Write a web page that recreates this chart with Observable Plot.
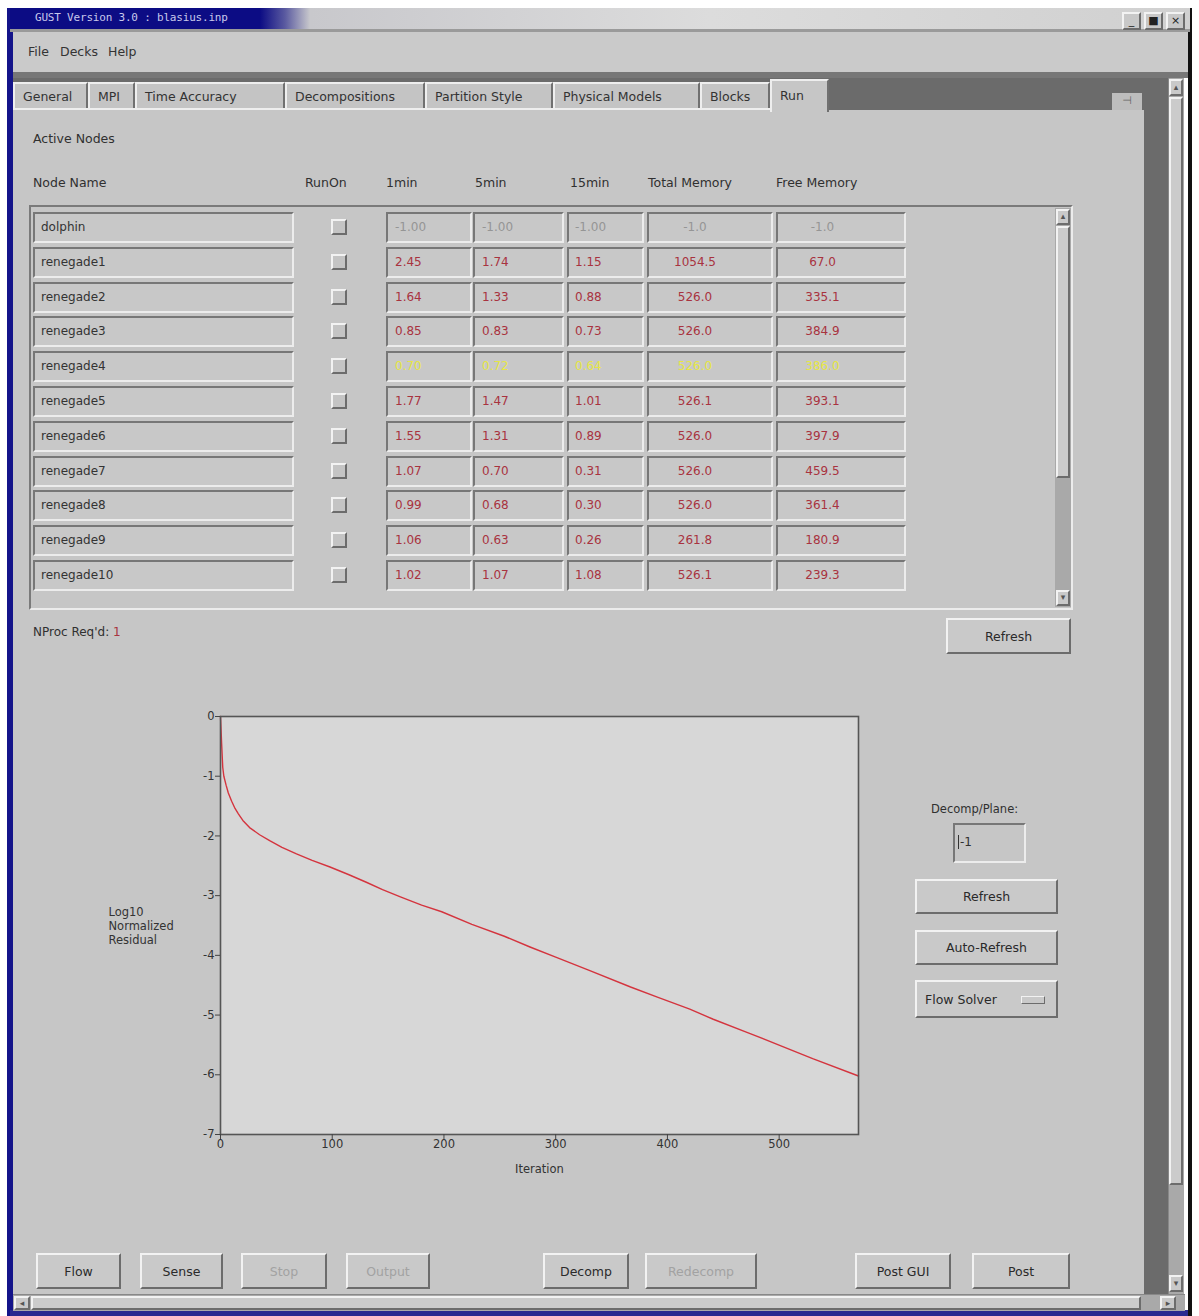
<!DOCTYPE html>
<html>
<head>
<meta charset="utf-8">
<script src="https://cdn.jsdelivr.net/npm/d3@7"></script>
<script src="https://cdn.jsdelivr.net/npm/@observablehq/plot@0.6"></script>
<style>
  html, body { margin: 0; padding: 0; background: #ffffff; }
  body { width: 1199px; height: 1316px; position: relative; overflow: hidden;
         font-family: "DejaVu Sans", sans-serif; font-size: 12.5px; color: #303030; }
  .abs { position: absolute; box-sizing: border-box; }
  .sunken { border-top: 2px solid #777; border-left: 2px solid #777; border-bottom: 2px solid #ececec; border-right: 2px solid #ececec; background: #c8c8c8; }
  .raised { border-top: 2px solid #f2f2f2; border-left: 2px solid #f2f2f2; border-bottom: 2px solid #6c6c6c; border-right: 2px solid #6c6c6c; background: #c9c9c9; }
  .btn { display: flex; align-items: center; justify-content: center; color: #2a2a2a; font-size: 12.5px; }
  .dis { color: #a2a2a2; }
  .tab { border-top: 2px solid #eeeeee; border-left: 2px solid #eeeeee; border-right: 2px solid #707070; background: #c4c4c4; padding-left: 8px; line-height: 26px; font-size: 12.5px; color: #333; white-space: nowrap; }
  .cell { line-height: 27px; white-space: nowrap; font-size: 12px; }
  .red { color: #a8333f; }
  .grey { color: #959595; }
  .yel { color: #e6e645; }
</style>
</head>
<body>
<div id="gui"></div>
<script>
// ---------------- data ----------------
const titleText = "GUST Version 3.0 : blasius.inp";
const menuItems = ["File", "Decks", "Help"];
const tabNames = ["General", "MPI", "Time Accuracy", "Decompositions", "Partition Style", "Physical Models", "Blocks", "Run"];
const columnHeaders = ["Node Name", "RunOn", "1min", "5min", "15min", "Total Memory", "Free Memory"];
const nodeNames = ["dolphin", "renegade1", "renegade2", "renegade3", "renegade4", "renegade5", "renegade6", "renegade7", "renegade8", "renegade9", "renegade10"];
const load1min  = ["-1.00", "2.45", "1.64", "0.85", "0.70", "1.77", "1.55", "1.07", "0.99", "1.06", "1.02"];
const load5min  = ["-1.00", "1.74", "1.33", "0.83", "0.72", "1.47", "1.31", "0.70", "0.68", "0.63", "1.07"];
const load15min = ["-1.00", "1.15", "0.88", "0.73", "0.64", "1.01", "0.89", "0.31", "0.30", "0.26", "1.08"];
const totalMemory = ["-1.0", "1054.5", "526.0", "526.0", "526.0", "526.1", "526.0", "526.0", "526.0", "261.8", "526.1"];
const freeMemory  = ["-1.0", "67.0", "335.1", "384.9", "386.0", "393.1", "397.9", "459.5", "361.4", "180.9", "239.3"];
const rowState = ["off", "ok", "ok", "ok", "busy", "ok", "ok", "ok", "ok", "ok", "ok"];
const bottomButtons = ["Flow", "Sense", "Stop", "Output", "Decomp", "Redecomp", "Post GUI", "Post"];
const bottomEnabled = [true, true, false, false, true, false, true, true];

// residual history (iteration, log10 normalized residual)
const iterations = [0, 1, 2, 3, 5, 7, 10, 13, 16, 20, 26, 35, 44, 55, 68, 82, 98, 115, 131, 145, 161, 180, 198, 225, 254, 277, 300, 330, 367, 391, 420, 441, 470, 501, 530, 571];
const residuals  = [0, -0.45, -0.85, -1.0, -1.15, -1.28, -1.42, -1.54, -1.63, -1.74, -1.86, -1.98, -2.08, -2.19, -2.30, -2.41, -2.52, -2.65, -2.78, -2.90, -3.02, -3.16, -3.27, -3.48, -3.68, -3.86, -4.03, -4.25, -4.53, -4.70, -4.90, -5.07, -5.28, -5.51, -5.73, -6.02];
const xTicks = [0, 100, 200, 300, 400, 500];
const yTicks = [0, -1, -2, -3, -4, -5, -6, -7];

// ---------------- GUI helpers ----------------
const gui = document.getElementById("gui");
function box(x, y, w, h, cls, html, style) {
  const d = document.createElement("div");
  d.className = "abs " + (cls || "");
  d.style.left = x + "px"; d.style.top = y + "px";
  d.style.width = w + "px"; d.style.height = h + "px";
  if (style) Object.assign(d.style, style);
  if (html != null) d.innerHTML = html;
  gui.appendChild(d);
  return d;
}
function text(x, y, s, style) {
  const d = document.createElement("div");
  d.className = "abs";
  d.style.left = x + "px"; d.style.top = y + "px";
  d.style.whiteSpace = "nowrap";
  if (style) Object.assign(d.style, style);
  d.textContent = s;
  gui.appendChild(d);
  return d;
}

// window frame
box(7, 8, 6, 1308, "", null, {background: "#14148a"});
box(10, 1310, 1182, 6, "", null, {background: "#2a2a90"});
box(1188, 8, 4, 1308, "", null, {background: "#111"});
// title bar
box(10, 8, 1180, 24, "", null, {background: "linear-gradient(to right, #0c0c84 0px, #0c0c84 250px, #5a5aa0 275px, #c8c8cc 300px, #dcdcdc 700px, #d0d0d0 1180px)"});
box(10, 29, 1180, 3, "", null, {background: "#9a9a9a"});
text(35, 11, titleText, {fontFamily: "'DejaVu Sans Mono', monospace", fontSize: "11px", color: "#c8c8ec", letterSpacing: "-0.2px"});
[1122, 1144, 1166].forEach((x, i) => {
  box(x, 12, 19, 18, "raised", ["_", "&#9632;", "&#215;"][i], {fontSize: "11px", lineHeight: "13px", textAlign: "center", color: "#222", background: "#c8c8c8"});
});
// menu bar
box(13, 32, 1175, 43, "", null, {background: "#cacaca"});
box(13, 72, 1175, 6, "", null, {background: "#777"});
menuItems.forEach((m, i) => { text([28, 60, 108][i], 44, m, {fontSize: "12.5px", color: "#333"}); });

// dark background under tabs / right strip
box(13, 78, 1155, 1216, "", null, {background: "#6b6b6b"});
// main panel
box(13, 110, 1131, 1184, "", null, {background: "#c6c6c6"});
// tabs
const tabX = [13, 88, 135, 285, 425, 553, 700, 770, 829];
tabNames.forEach((t, i) => {
  const sel = i === tabNames.length - 1;
  box(tabX[i], sel ? 79 : 82, tabX[i + 1] - tabX[i], sel ? 33 : 28, "tab", t, sel ? {background: "#c6c6c6", lineHeight: "30px"} : null);
});
box(13, 108, 757, 2, "", null, {background: "#eeeeee"});
box(1112, 93, 30, 17, "", "&#8867;", {background: "#bdbdbd", color: "#666", fontSize: "11px", textAlign: "center", lineHeight: "16px"});
// right vertical scrollbar
box(1168, 78, 16, 1216, "", null, {background: "#a9a9a9", borderLeft: "1px solid #888"});
box(1169, 97, 14, 1088, "raised", null, {background: "#cbcbcb"});
box(1169, 79, 14, 17, "raised", "&#9652;", {fontSize: "9px", textAlign: "center", lineHeight: "12px", color: "#555"});
box(1169, 1275, 14, 17, "raised", "&#9662;", {fontSize: "9px", textAlign: "center", lineHeight: "12px", color: "#555"});
// bottom horizontal scrollbar
box(13, 1294, 1172, 17, "", null, {background: "#a9a9a9", borderTop: "1px solid #888"});
box(31, 1296, 1110, 14, "raised", null, {background: "#cbcbcb"});
box(14, 1296, 16, 14, "raised", "&#9666;", {fontSize: "9px", lineHeight: "10px", textAlign: "center", color: "#555"});
box(1160, 1296, 16, 14, "raised", "&#9656;", {fontSize: "9px", lineHeight: "10px", textAlign: "center", color: "#555"});

// Active nodes table
text(33, 131, "Active Nodes", {fontSize: "12.5px"});
const headerX = [33, 305, 386, 475, 570, 648, 776];
columnHeaders.forEach((h, i) => text(headerX[i], 175, h, {fontSize: "12.5px"}));
box(29, 205, 1044, 405, "", null, {borderTop: "2px solid #7a7a7a", borderLeft: "2px solid #7a7a7a", borderBottom: "2px solid #ececec", borderRight: "2px solid #ececec"});
// table scrollbar
box(1055, 208, 16, 399, "", null, {background: "#a9a9a9"});
box(1056, 226, 14, 252, "raised", null, {background: "#cbcbcb"});
box(1056, 209, 14, 16, "raised", "&#9652;", {fontSize: "9px", textAlign: "center", lineHeight: "11px", color: "#555"});
box(1056, 590, 14, 16, "raised", "&#9662;", {fontSize: "9px", textAlign: "center", lineHeight: "11px", color: "#555"});

const colCells = [
  {x: 386, w: 86, vals: load1min, align: "left", pad: "0 0 0 7px"},
  {x: 473, w: 91, vals: load5min, align: "left", pad: "0 0 0 7px"},
  {x: 567, w: 77, vals: load15min, align: "left", pad: "0 0 0 6px"},
  {x: 647, w: 126, vals: totalMemory, align: "center", pad: "0 30px 0 0"},
  {x: 776, w: 130, vals: freeMemory, align: "center", pad: "0 37px 0 0"}
];
nodeNames.forEach((n, r) => {
  const y = Math.round(212 + r * 34.8);
  box(33, y, 261, 31, "sunken cell", n, {paddingLeft: "6px", color: "#333"});
  box(331, y + 7, 16, 16, "raised", null, {background: "#c4c4c4"});
  const cls = rowState[r] === "off" ? "grey" : rowState[r] === "busy" ? "yel" : "red";
  colCells.forEach(c => {
    box(c.x, y, c.w, 31, "sunken cell " + cls, c.vals[r], {textAlign: c.align, padding: c.pad});
  });
});

// NProc and refresh
const np = text(33, 625, "NProc Req'd: ", {fontSize: "12px"});
np.innerHTML = "NProc Req'd: <span class='red'>1</span>";
box(946, 618, 125, 36, "raised btn", "Refresh");

// right-side controls
text(931, 802, "Decomp/Plane:", {fontSize: "11.5px"});
box(953, 823, 73, 40, "sunken", "<span style='border-left:1px solid #333;padding-left:1px'>-1</span>", {paddingLeft: "3px", paddingTop: "10px", fontSize: "12px", background: "#c6c6c6"});
box(915, 879, 143, 35, "raised btn", "Refresh");
box(915, 930, 143, 35, "raised btn", "Auto-Refresh");
box(915, 980, 143, 38, "raised btn", "Flow Solver", {justifyContent: "flex-start", paddingLeft: "8px"});
box(1021, 996, 24, 8, "raised", null, {borderWidth: "1px"});

// bottom buttons
const bbX = [36, 140, 241, 346, 543, 645, 855, 972];
const bbW = [85, 83, 86, 84, 86, 112, 96, 98];
bottomButtons.forEach((b, i) => {
  box(bbX[i], 1253, bbW[i], 36, "raised btn" + (bottomEnabled[i] ? "" : " dis"), b);
});

// ---------------- chart ----------------
const residualData = iterations.map((it, i) => ({iteration: it, residual: residuals[i]}));
const chart = Plot.plot({
  width: 800,
  height: 490,
  marginLeft: 140,
  marginRight: 22,
  marginTop: 16,
  marginBottom: 56,
  style: {background: "transparent", fontFamily: "DejaVu Sans, sans-serif", fontSize: "11.5px", color: "#333", overflow: "visible"},
  x: {domain: [0, 571]},
  y: {domain: [-7, 0]},
  marks: [
    Plot.frame({fill: "#d7d7d7", stroke: null}),
    Plot.line(residualData, {x: "iteration", y: "residual", stroke: "#d4343e", strokeWidth: 1.4}),
    Plot.frame({stroke: "#555", strokeWidth: 1.6}),
    Plot.axisX({ticks: xTicks, tickSize: 5, tickPadding: 0, label: null, tickFormat: d => String(d), stroke: "#444"}),
    Plot.axisY({ticks: yTicks, tickSize: 5, tickPadding: 1, label: null, tickFormat: d => String(d), stroke: "#444"}),
    Plot.text(["Iteration"], {text: d => d, frameAnchor: "bottom", dy: 38, fontSize: 11.5}),
    Plot.text(["Log10\nNormalized\nResidual"], {text: d => d, frameAnchor: "left", dx: -112, textAnchor: "start", lineHeight: 1.25, fontSize: 11.5})
  ]
});
chart.style.position = "absolute";
chart.style.left = "80px";
chart.style.top = "700px";
gui.appendChild(chart);
</script>
</body>
</html>
